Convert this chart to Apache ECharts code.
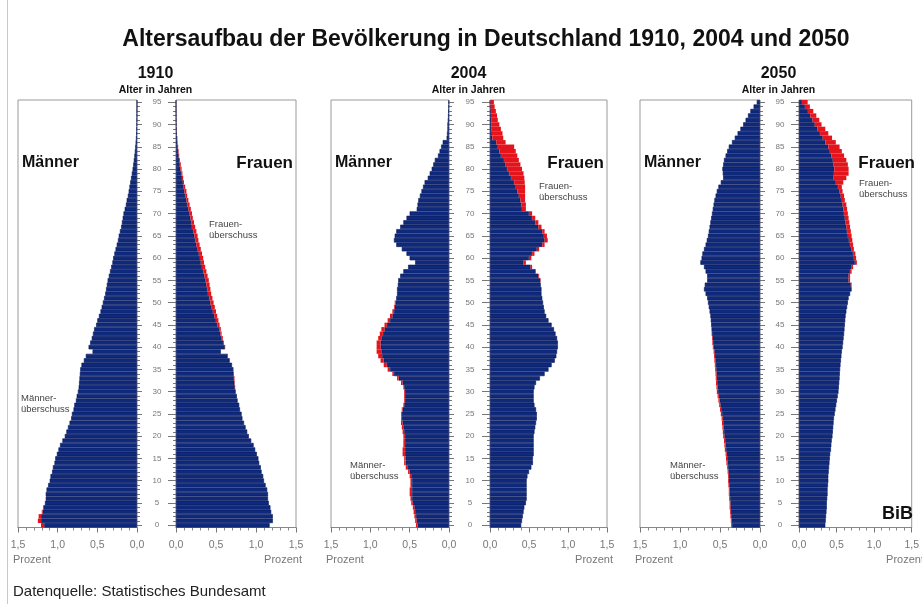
<!DOCTYPE html>
<html>
<head>
<meta charset="utf-8">
<script src="https://cdn.jsdelivr.net/npm/echarts@6/dist/echarts.min.js"></script>
<style>html,body{margin:0;padding:0;background:#fff}#c{width:922px;height:604px}</style>
</head>
<body>
<div id="c"></div>
<script>
const ages = [0,1,2,3,4,5,6,7,8,9,10,11,12,13,14,15,16,17,18,19,20,21,22,23,24,25,26,27,28,29,30,31,32,33,34,35,36,37,38,39,40,41,42,43,44,45,46,47,48,49,50,51,52,53,54,55,56,57,58,59,60,61,62,63,64,65,66,67,68,69,70,71,72,73,74,75,76,77,78,79,80,81,82,83,84,85,86,87,88,89,90,91,92,93,94,95];

const years = ['1910', '2004', '2050'];

const men1910 = [
 1.21,1.25,1.24,1.20,1.18,1.16,1.15,1.15,1.14,1.12,
 1.10,1.09,1.07,1.06,1.04,1.03,1.01,0.99,0.97,0.94,
 0.91,0.89,0.87,0.85,0.83,0.82,0.80,0.79,0.77,0.76,
 0.745,0.735,0.73,0.725,0.72,0.715,0.70,0.67,0.645,0.56,
 0.61,0.59,0.57,0.555,0.54,0.515,0.50,0.48,0.46,0.445,
 0.43,0.415,0.40,0.39,0.38,0.37,0.355,0.34,0.325,0.31,
 0.30,0.285,0.27,0.255,0.24,0.23,0.215,0.20,0.19,0.18,
 0.17,0.155,0.14,0.13,0.115,0.105,0.095,0.085,0.075,0.065,
 0.055,0.047,0.04,0.033,0.027,0.022,0.017,0.013,0.01,0.008,
 0.006,0.004,0.003,0.002,0.0015,0.001];
const women1910 = [
 1.17,1.21,1.21,1.19,1.18,1.16,1.15,1.15,1.14,1.12,
 1.10,1.09,1.07,1.06,1.04,1.03,1.01,0.99,0.97,0.94,
 0.91,0.89,0.87,0.85,0.83,0.82,0.80,0.79,0.77,0.76,
 0.75,0.74,0.735,0.73,0.725,0.72,0.70,0.675,0.65,0.56,
 0.615,0.60,0.585,0.57,0.56,0.545,0.53,0.515,0.50,0.485,
 0.47,0.455,0.44,0.43,0.42,0.41,0.395,0.38,0.365,0.35,
 0.34,0.325,0.31,0.295,0.28,0.27,0.255,0.24,0.225,0.21,
 0.20,0.185,0.17,0.155,0.14,0.13,0.115,0.10,0.09,0.08,
 0.07,0.06,0.05,0.04,0.033,0.027,0.02,0.016,0.012,0.009,
 0.007,0.005,0.004,0.003,0.002,0.0015];

const men2004 = [
 0.42,0.43,0.44,0.45,0.46,0.48,0.49,0.50,0.50,0.49,
 0.49,0.50,0.52,0.55,0.57,0.57,0.59,0.59,0.58,0.58,
 0.58,0.59,0.60,0.61,0.61,0.61,0.60,0.58,0.57,0.57,
 0.57,0.58,0.61,0.66,0.72,0.78,0.83,0.87,0.90,0.92,
 0.92,0.92,0.90,0.88,0.86,0.82,0.78,0.75,0.72,0.70,
 0.69,0.67,0.66,0.66,0.65,0.645,0.62,0.58,0.52,0.43,
 0.50,0.54,0.60,0.67,0.70,0.69,0.67,0.62,0.58,0.54,
 0.50,0.41,0.40,0.39,0.37,0.35,0.33,0.31,0.27,0.245,
 0.22,0.20,0.18,0.14,0.12,0.10,0.08,0.03,0.025,0.02,
 0.02,0.015,0.012,0.01,0.008,0.006];
const women2004 = [
 0.40,0.41,0.42,0.43,0.44,0.46,0.47,0.47,0.47,0.47,
 0.47,0.48,0.50,0.53,0.55,0.55,0.56,0.56,0.56,0.56,
 0.56,0.57,0.58,0.59,0.60,0.60,0.59,0.57,0.56,0.56,
 0.56,0.57,0.59,0.64,0.70,0.75,0.79,0.83,0.85,0.86,
 0.87,0.87,0.86,0.84,0.82,0.79,0.75,0.72,0.70,0.69,
 0.68,0.67,0.66,0.66,0.65,0.65,0.63,0.59,0.54,0.46,
 0.53,0.57,0.63,0.70,0.74,0.73,0.70,0.66,0.62,0.58,
 0.54,0.46,0.46,0.45,0.45,0.45,0.45,0.445,0.44,0.43,
 0.41,0.39,0.37,0.35,0.33,0.31,0.20,0.17,0.16,0.14,
 0.12,0.10,0.09,0.075,0.06,0.05];

const men2050 = [
 0.36,0.365,0.37,0.375,0.38,0.38,0.385,0.39,0.39,0.395,
 0.40,0.40,0.405,0.41,0.42,0.425,0.43,0.44,0.445,0.45,
 0.46,0.465,0.47,0.475,0.48,0.49,0.50,0.51,0.52,0.53,
 0.54,0.545,0.55,0.553,0.556,0.56,0.565,0.57,0.575,0.58,
 0.59,0.595,0.60,0.603,0.606,0.61,0.615,0.62,0.63,0.64,
 0.65,0.66,0.68,0.70,0.69,0.66,0.66,0.68,0.70,0.745,
 0.73,0.72,0.70,0.68,0.665,0.65,0.64,0.63,0.62,0.61,
 0.60,0.59,0.58,0.57,0.555,0.54,0.52,0.49,0.46,0.465,
 0.47,0.46,0.45,0.43,0.41,0.39,0.35,0.315,0.28,0.245,
 0.21,0.18,0.15,0.12,0.08,0.04];
const women2050 = [
 0.35,0.355,0.36,0.365,0.37,0.37,0.375,0.38,0.38,0.385,
 0.39,0.39,0.395,0.40,0.405,0.41,0.415,0.425,0.43,0.435,
 0.445,0.45,0.455,0.46,0.465,0.475,0.485,0.495,0.505,0.515,
 0.525,0.53,0.535,0.54,0.543,0.547,0.552,0.558,0.564,0.57,
 0.58,0.587,0.593,0.60,0.605,0.61,0.615,0.62,0.63,0.64,
 0.65,0.66,0.68,0.70,0.70,0.68,0.68,0.70,0.72,0.77,
 0.76,0.75,0.73,0.72,0.71,0.70,0.69,0.68,0.67,0.66,
 0.65,0.64,0.63,0.61,0.60,0.58,0.57,0.59,0.63,0.66,
 0.66,0.65,0.63,0.60,0.57,0.54,0.49,0.44,0.39,0.35,
 0.30,0.27,0.23,0.19,0.145,0.115];

const FONT = '"Liberation Sans", Arial, sans-serif';
const BLUE = '#0f2a7d', BLUE_EDGE = '#06185a', RED = '#e3141c';

const panels = [
  {mL: 18,  mR: 137, wL: 176, wR: 296, men: men1910, women: women1910, fx: 209, fy: 224, mx: 21,  my: 398},
  {mL: 331, mR: 449, wL: 490, wR: 607, men: men2004, women: women2004, fx: 539, fy: 186, mx: 350, my: 465},
  {mL: 640, mR: 760, wL: 799, wR: 918, men: men2050, women: women2050, fx: 859, fy: 183, mx: 670, my: 465}
];

const TOP = 100, HEIGHT = 427.5;
const grids = [], xAxes = [], yAxes = [], series = [], texts = [];

function fmt(v) { return v.toFixed(1).replace('.', ','); }

function xAxis(gi, inverse) {
  return {
    type: 'value', gridIndex: gi, min: 0, max: 1.5, interval: 0.5, inverse: inverse,
    axisLine: {show: true, lineStyle: {color: '#888', width: 1}},
    axisTick: {show: true, length: 5, lineStyle: {color: '#777'}},
    minorTick: {show: true, splitNumber: 5, length: 3, lineStyle: {color: '#888'}},
    splitLine: {show: false},
    axisLabel: {formatter: fmt, fontSize: 10.5, color: '#777', margin: 12, fontFamily: FONT}
  };
}
function yAxis(gi, pos, tickInt, tickLen, label, margin) {
  return {
    type: 'category', gridIndex: gi, data: ages, position: pos, boundaryGap: true,
    axisLine: {show: false},
    axisTick: {show: true, alignWithLabel: true, interval: tickInt, length: tickLen, lineStyle: {color: '#777'}},
    axisLabel: label ? {show: true, interval: 4, align: 'center', margin: margin, fontSize: 8, color: '#777', fontFamily: FONT} : {show: false},
    splitLine: {show: false}
  };
}
function t(x, y, text, font, align, color, vAlign) {
  texts.push({type: 'text', silent: true, style: {x: x, y: y, text: text, font: font, fill: color || '#111',
    align: align || 'left', textAlign: align || 'left', verticalAlign: vAlign || 'middle', textVerticalAlign: vAlign || 'middle'}});
}

panels.forEach((p, i) => {
  const gM = 2 * i, gW = 2 * i + 1;
  grids.push({left: p.mL, width: p.mR - p.mL, top: TOP, height: HEIGHT, show: true, borderColor: '#999', borderWidth: 1, containLabel: false});
  grids.push({left: p.wL, width: p.wR - p.wL, top: TOP, height: HEIGHT, show: true, borderColor: '#999', borderWidth: 1, containLabel: false});
  xAxes.push(xAxis(gM, true));
  xAxes.push(xAxis(gW, false));
  const yBase = yAxes.length;
  yAxes.push(yAxis(gM, 'right', 0, 3, false));
  yAxes.push(yAxis(gM, 'right', 4, 5, false));
  yAxes.push(yAxis(gW, 'left', 0, 3, false));
  yAxes.push(yAxis(gW, 'left', 4, 8, true, p.wL - (p.mR + p.wL) / 2 - 0.5));

  const base = p.men.map((m, k) => Math.min(m, p.women[k]));
  const menEx = p.men.map((m, k) => Math.max(0, +(m - p.women[k]).toFixed(4)));
  const womenEx = p.women.map((w, k) => Math.max(0, +(w - p.men[k]).toFixed(4)));
  const common = {type: 'bar', barCategoryGap: '0%', silent: true};
  series.push(Object.assign({}, common, {name: 'm' + i, xAxisIndex: gM, yAxisIndex: yBase, stack: 'm' + i, data: base,
    itemStyle: {color: BLUE, borderColor: BLUE_EDGE, borderWidth: 0.6}}));
  series.push(Object.assign({}, common, {name: 'mx' + i, xAxisIndex: gM, yAxisIndex: yBase, stack: 'm' + i, data: menEx,
    itemStyle: {color: RED}}));
  series.push(Object.assign({}, common, {name: 'w' + i, xAxisIndex: gW, yAxisIndex: yBase + 2, stack: 'w' + i, data: base,
    itemStyle: {color: BLUE, borderColor: BLUE_EDGE, borderWidth: 0.6}}));
  series.push(Object.assign({}, common, {name: 'wx' + i, xAxisIndex: gW, yAxisIndex: yBase + 2, stack: 'w' + i, data: womenEx,
    itemStyle: {color: RED}}));

  const cx = (p.mR + p.wL) / 2 - 1;
  t(cx, 74, years[i], 'bold 16px ' + FONT, 'center', '#111');
  t(cx, 90, 'Alter in Jahren', 'bold 10.5px ' + FONT, 'center', '#111');
  t(p.mL + 4, 163, 'Männer', 'bold 16px ' + FONT, 'left', '#111');
  t(p.wR - 3, 163, 'Frauen', 'bold 17px ' + FONT, 'right', '#111');
  t(p.fx, p.fy, 'Frauen-', '9.5px ' + FONT, 'left', '#444');
  t(p.fx, p.fy + 11, 'überschuss', '9.5px ' + FONT, 'left', '#444');
  t(p.mx, p.my, 'Männer-', '9.5px ' + FONT, 'left', '#444');
  t(p.mx, p.my + 11, 'überschuss', '9.5px ' + FONT, 'left', '#444');
  t(p.mL - 5, 560, 'Prozent', '11px ' + FONT, 'left', '#777');
  t(p.wR + 6, 560, 'Prozent', '11px ' + FONT, 'right', '#777');
});

t(486, 40, 'Altersaufbau der Bevölkerung in Deutschland 1910, 2004 und 2050', 'bold 23px ' + FONT, 'center', '#111');
t(13, 592, 'Datenquelle: Statistisches Bundesamt', '15px ' + FONT, 'left', '#222');
t(913, 514, 'BiB', 'bold 18px ' + FONT, 'right', '#111');
texts.push({type: 'line', silent: true, shape: {x1: 7.5, y1: 0, x2: 7.5, y2: 604}, style: {stroke: '#c8c8c8', lineWidth: 1}});

const chart = echarts.init(document.getElementById('c'), null, {renderer: 'canvas'});
chart.setOption({
  animation: false,
  backgroundColor: '#ffffff',
  textStyle: {fontFamily: FONT},
  grid: grids,
  xAxis: xAxes,
  yAxis: yAxes,
  series: series,
  graphic: {elements: texts}
});
</script>
</body>
</html>
